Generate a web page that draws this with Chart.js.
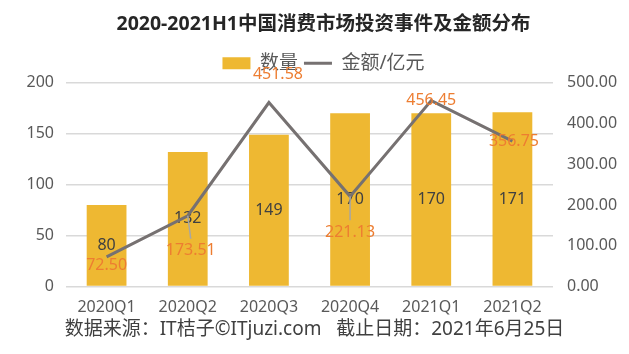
<!DOCTYPE html>
<html><head><meta charset="utf-8">
<script src="https://cdn.jsdelivr.net/npm/chart.js@4"></script>
<style>html,body{margin:0;padding:0;background:#fff}#wrap{width:629px;height:354px;position:relative}</style>
</head><body><div id="wrap"><canvas id="c"></canvas></div>
<script>
const categories = ['2020Q1','2020Q2','2020Q3','2020Q4','2021Q1','2021Q2'];
const countValues = [80, 132, 149, 170, 170, 171];
const amountValues = [72.50, 173.51, 451.58, 221.13, 456.45, 356.75];
const leftTicks = [0, 50, 100, 150, 200];
const rightTicks = [0, 100, 200, 300, 400, 500];
const seriesNames = ['数量', '金额/亿元'];
const titleText = '2020-2021H1中国消费市场投资事件及金额分布';
const sourceText = '数据来源：IT桔子©ITjuzi.com   截止日期：2021年6月25日';

// label placement (layout only)
const amountLabelOffsets = [[0, 9], [3, 35], [9, -28], [0, 36], [0, 0], [1.5, 0]];
const amountLeaders = [false, true, false, true, false, false];
const HEADER_SHIFT = 9;

const FONT = "'Noto Sans','Noto Sans CJK SC',sans-serif";
const BAR = '#EEB832';
const LINE = '#767171';
const ORANGE = '#ED7D31';
const TICK = '#595959';

const labelPlugin = {
  id: 'valueLabels',
  afterLayout(chart) {
    [chart.titleBlock, chart.legend].forEach(b => {
      if (b) { b.left += HEADER_SHIFT; b.right += HEADER_SHIFT; }
    });
  },
  afterDatasetDraw(chart, args) {
    if (args.index !== 0) return;
    const ctx = chart.ctx;
    ctx.save();
    ctx.font = '16px ' + FONT;
    ctx.fillStyle = '#404040';
    ctx.textAlign = 'center';
    ctx.textBaseline = 'middle';
    args.meta.data.forEach((el, i) => {
      const p = el.getProps(['x', 'y', 'base'], true);
      ctx.fillText(String(countValues[i]), p.x, (p.y + p.base) / 2);
    });
    ctx.restore();
  },
  afterDatasetsDraw(chart) {
    const ctx = chart.ctx;
    const meta = chart.getDatasetMeta(1);
    ctx.save();
    meta.data.forEach((el, i) => {
      const p = el.getProps(['x', 'y'], true);
      const [dx, dy] = amountLabelOffsets[i];
      const lx = p.x + dx, ly = p.y + dy;
      if (amountLeaders[i]) {
        ctx.strokeStyle = '#A6A6A6';
        ctx.lineWidth = 1.5;
        ctx.beginPath();
        ctx.moveTo(p.x, p.y);
        ctx.lineTo(lx, ly - 12);
        ctx.stroke();
      }
      ctx.font = '16px ' + FONT;
      ctx.fillStyle = ORANGE;
      ctx.textAlign = 'center';
      ctx.textBaseline = 'middle';
      ctx.fillText(amountValues[i].toFixed(2), lx, ly);
    });
    ctx.restore();
  }
};

new Chart(document.getElementById('c'), {
  type: 'bar',
  data: {
    labels: categories,
    datasets: [
      { type: 'bar', label: seriesNames[0], data: countValues, backgroundColor: BAR, yAxisID: 'y', order: 1,
        categoryPercentage: 1, barPercentage: 0.49 },
      { type: 'line', label: seriesNames[1], data: amountValues, borderColor: LINE, backgroundColor: LINE,
        borderWidth: 3, pointRadius: 0, tension: 0, yAxisID: 'y1', order: 0 }
    ]
  },
  options: {
    responsive: true,
    maintainAspectRatio: false,
    animation: false,
    layout: { padding: 0 },
    plugins: {
      tooltip: { enabled: false },
      title: { display: true, text: titleText, color: '#262626',
        font: { family: FONT, size: 19.5, weight: 'bold', lineHeight: 1.2 }, padding: { top: 12.3, bottom: 12.1 } },
      subtitle: { display: true, position: 'bottom', text: sourceText, color: '#404040',
        font: { family: FONT, size: 19, lineHeight: 1.2 }, padding: { top: 1.5, bottom: 12.7 } },
      legend: {
        position: 'top',
        labels: {
          usePointStyle: true, pointStyleWidth: 28, boxHeight: 12, padding: 6,
          color: TICK, font: { family: FONT, size: 19 },
          generateLabels: () => [
            { text: seriesNames[0], fillStyle: BAR, strokeStyle: BAR, lineWidth: 0, pointStyle: 'rect', datasetIndex: 0, hidden: false, fontColor: TICK },
            { text: seriesNames[1], fillStyle: LINE, strokeStyle: LINE, lineWidth: 3, pointStyle: 'line', datasetIndex: 1, hidden: false, fontColor: TICK }
          ]
        }
      }
    },
    scales: {
      x: {
        grid: { display: false, drawTicks: false, tickLength: 0 }, border: { display: false },
        ticks: { color: TICK, font: { family: FONT, size: 16 }, padding: 11.4 },
        afterFit: s => { s.height = 30.6; }
      },
      y: {
        position: 'left', min: 0, max: 200,
        afterBuildTicks: s => { s.ticks = leftTicks.map(v => ({ value: v })); },
        grid: { color: '#D9D9D9', lineWidth: 1.5, drawTicks: false }, border: { display: false },
        ticks: { color: TICK, font: { family: FONT, size: 16 }, padding: 12 },
        afterFit: s => { s.width = 66; }
      },
      y1: {
        position: 'right', min: 0, max: 500,
        afterBuildTicks: s => { s.ticks = rightTicks.map(v => ({ value: v })); },
        grid: { display: false, drawTicks: false }, border: { display: false },
        ticks: { color: TICK, font: { family: FONT, size: 16 }, padding: 14, callback: v => Number(v).toFixed(2) },
        afterFit: s => { s.width = 76; }
      }
    }
  },
  plugins: [labelPlugin]
});
</script></body></html>
